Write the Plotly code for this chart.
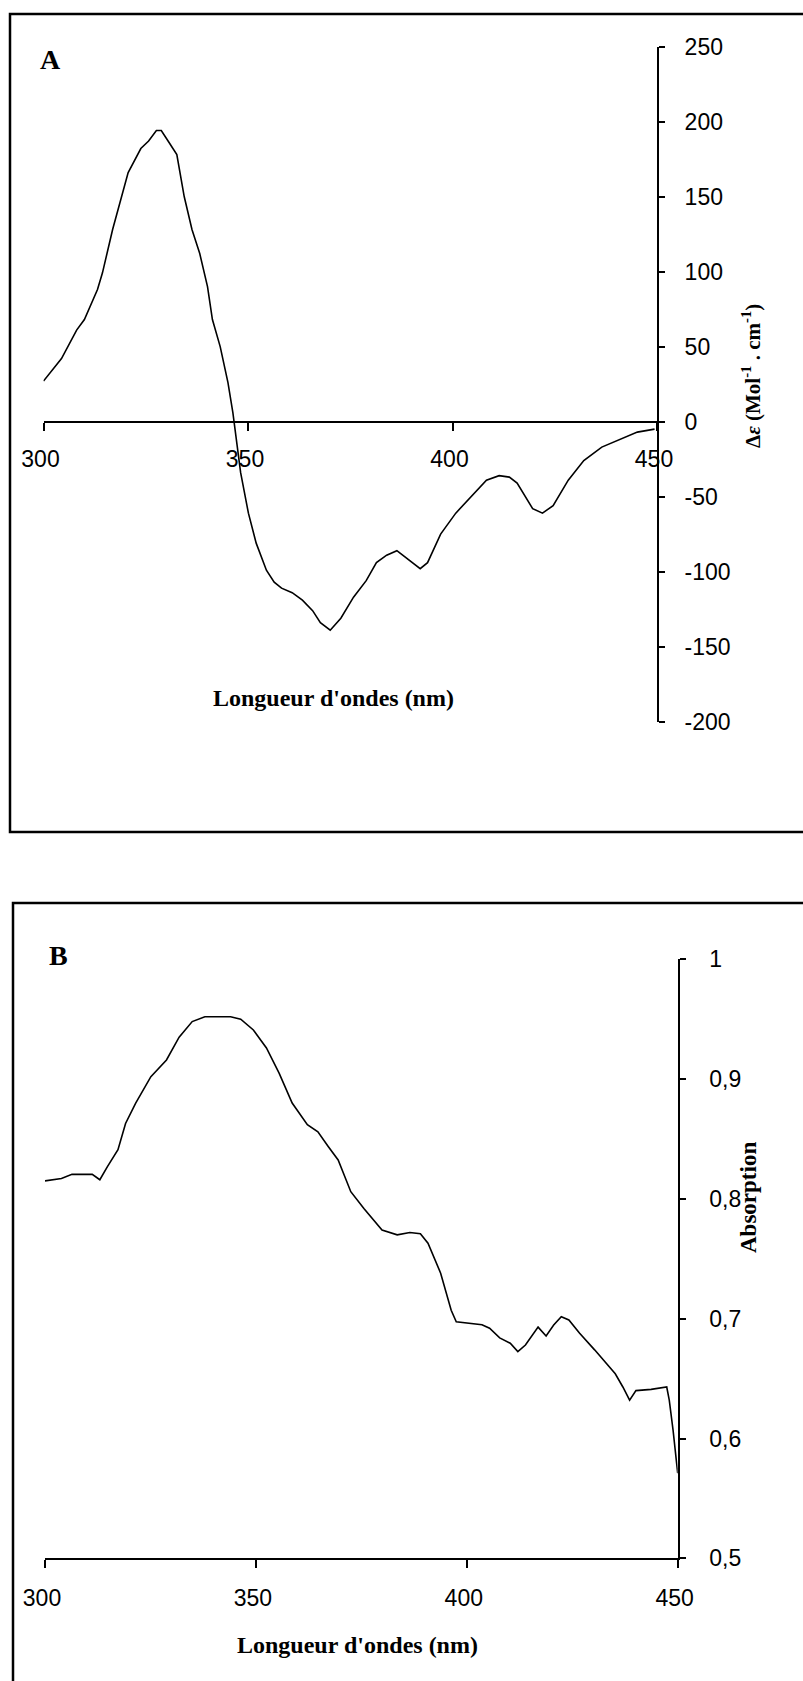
import plotly.graph_objects as go

# ---- Panel A: circular dichroism spectrum ----
cd_wavelength = [300, 304.4, 308.1, 310, 313.2, 314.4, 316.9, 318.8, 320.7, 323.8,
                 325.7, 327.6, 328.8, 330.7, 332.6, 334.4, 336.3, 338.2, 340.1, 341.3,
                 343.2, 345.1, 346.3, 348.2, 350.1, 352, 354.5, 356.4, 358.2, 360.8,
                 363.3, 365.8, 367.7, 370.1, 372.7, 375.8, 378.9, 381.4, 383.9, 386.4,
                 388.9, 392.1, 393.9, 397.1, 400.8, 404.6, 408.3, 411.4, 413.9, 415.8,
                 419.6, 422, 424.6, 428.3, 432.1, 436.5, 440.9, 445.2, 449.4]
cd_delta_eps = [27, 42, 61, 68, 88, 99, 128, 148, 166, 182,
                187, 194, 194, 186, 178, 150, 128, 112, 90, 68,
                50, 26, 6, -34, -61, -81, -99, -107, -111, -114,
                -119, -126, -134, -139, -131, -117, -106, -94, -89, -86,
                -91, -98, -94, -75, -61, -50, -39, -36, -37, -41,
                -58, -61, -56, -39, -26, -17, -12, -7, -5]
cd_ticks = [250, 200, 150, 100, 50, 0, -50, -100, -150, -200]
cd_ticktext = ["250", "200", "150", "100", "50", "0", "-50", "-100", "-150", "-200"]

# ---- Panel B: absorption spectrum ----
abs_wavelength = [300, 303.9, 306.4, 311.2, 313, 314.8, 317.3, 319.1, 321.5, 325.1,
                  328.8, 331.8, 334.9, 337.9, 344, 346.4, 349.4, 352.5, 355.5, 358.6,
                  362.2, 364.7, 367.1, 369.5, 372.5, 375.6, 379.9, 383.5, 386.5, 389,
                  390.8, 393.8, 396.3, 397.5, 403.6, 405.4, 407.8, 410.3, 412.1, 413.9,
                  416.9, 418.8, 420.6, 422.4, 424.2, 426.7, 430.3, 433.4, 435.2, 437,
                  438.6, 440.1, 443.7, 447.4, 448, 448.9, 449.6, 450]
abs_values = [0.815, 0.817, 0.8205, 0.8205, 0.816, 0.827, 0.841, 0.863, 0.880, 0.902,
              0.916, 0.935, 0.948, 0.952, 0.952, 0.950, 0.941, 0.926, 0.905, 0.880,
              0.862, 0.856, 0.844, 0.8325, 0.806, 0.792, 0.774, 0.770, 0.772, 0.771,
              0.763, 0.738, 0.707, 0.6975, 0.695, 0.692, 0.684, 0.6795, 0.6725, 0.678,
              0.693, 0.6856, 0.6947, 0.7017, 0.699, 0.688, 0.674, 0.661, 0.654, 0.643,
              0.632, 0.640, 0.641, 0.643, 0.632, 0.607, 0.585, 0.571]
abs_ticks = [1, 0.9, 0.8, 0.7, 0.6, 0.5]
abs_ticktext = ["1", "0,9", "0,8", "0,7", "0,6", "0,5"]

wl_ticks = [300, 350, 400, 450]
wl_ticktext = ["300", "350", "400", "450"]

W, H = 803, 1681


def px_x(x):
    return x / W


def px_y(y):
    return 1 - y / H


# plot-area placement (pixels from top-left)
A_left, A_right, A_top, A_bottom = 43.5, 657, 46.5, 721.7
B_left, B_right, B_top, B_bottom = 45, 677.7, 959.3, 1558.3

A_ymin, A_ymax = -200, 250
A_ydom = [px_y(A_bottom), px_y(A_top)]
zero_pos = A_ydom[0] + (0 - A_ymin) / (A_ymax - A_ymin) * (A_ydom[1] - A_ydom[0])

tick_font = dict(family="Liberation Sans, Arial, sans-serif", size=23, color="black")
serif = "Liberation Serif, Times New Roman, serif"
title_font = dict(family=serif, size=24, color="black")

fig = go.Figure()
fig.add_trace(go.Scatter(x=cd_wavelength, y=cd_delta_eps, mode="lines",
                         line=dict(color="black", width=1.6), xaxis="x", yaxis="y",
                         showlegend=False, hoverinfo="skip"))
fig.add_trace(go.Scatter(x=abs_wavelength, y=abs_values, mode="lines",
                         line=dict(color="black", width=1.6), xaxis="x2", yaxis="y2",
                         showlegend=False, hoverinfo="skip"))

axis_common = dict(showgrid=False, zeroline=False, showline=True, linecolor="black",
                   linewidth=2, ticks="outside", tickcolor="black", tickwidth=2,
                   tickfont=tick_font, fixedrange=True, automargin=False)

fig.update_layout(
    template="none",
    width=W, height=H, autosize=False,
    margin=dict(l=0, r=0, t=0, b=0, pad=0, autoexpand=False),
    paper_bgcolor="white", plot_bgcolor="rgba(0,0,0,0)",
    xaxis=dict(domain=[px_x(A_left), px_x(A_right)], range=[300, 450],
               anchor="free", position=zero_pos,
               tickvals=wl_ticks, ticktext=wl_ticktext, ticklen=8,
               ticklabelstandoff=9, ticklabelshift=-3, **axis_common),
    yaxis=dict(domain=A_ydom, range=[A_ymin, A_ymax], side="right", anchor="x",
               tickvals=cd_ticks, ticktext=cd_ticktext, ticklen=6,
               ticklabelstandoff=15, **axis_common),
    xaxis2=dict(domain=[px_x(B_left), px_x(B_right)], range=[300, 450], anchor="y2",
                tickvals=wl_ticks, ticktext=wl_ticktext, ticklen=8,
                ticklabelstandoff=10, ticklabelshift=-3, **axis_common),
    yaxis2=dict(domain=[px_y(B_bottom), px_y(B_top)], range=[0.5, 1], side="right",
                anchor="x2", tickvals=abs_ticks, ticktext=abs_ticktext, ticklen=6,
                ticklabelstandoff=19, **axis_common),
)

# panel frames
frame = dict(type="rect", xref="paper", yref="paper", line=dict(color="black", width=2.5),
             fillcolor="rgba(0,0,0,0)", layer="below")
fig.add_shape(x0=px_x(10), x1=px_x(830), y0=px_y(14), y1=px_y(832), **frame)
fig.add_shape(x0=px_x(13), x1=px_x(830), y0=px_y(903), y1=px_y(1720), **frame)

annotations = [
    dict(text="<b>A</b>", x=px_x(50), y=px_y(60), font=dict(family=serif, size=28, color="black")),
    dict(text="<b>B</b>", x=px_x(58), y=px_y(955), font=dict(family=serif, size=28, color="black")),
    dict(text="<b>Longueur d'ondes (nm)</b>", x=px_x(333), y=px_y(698), font=title_font),
    dict(text="<b>Longueur d'ondes (nm)</b>", x=px_x(357), y=px_y(1645), font=title_font),
    dict(text="<b>Δ<i>ε</i> (Mol<sup>-1</sup> . cm<sup>-1</sup>)</b>", x=px_x(751), y=px_y(376),
         textangle=-90, font=dict(family=serif, size=21, color="black")),
    dict(text="<b>Absorption</b>", x=px_x(748), y=px_y(1198), textangle=-90,
         font=dict(family=serif, size=23, color="black")),
]
for a in annotations:
    fig.add_annotation(xref="paper", yref="paper", showarrow=False,
                       xanchor="center", yanchor="middle", **a)

fig.write_html("out.html")
